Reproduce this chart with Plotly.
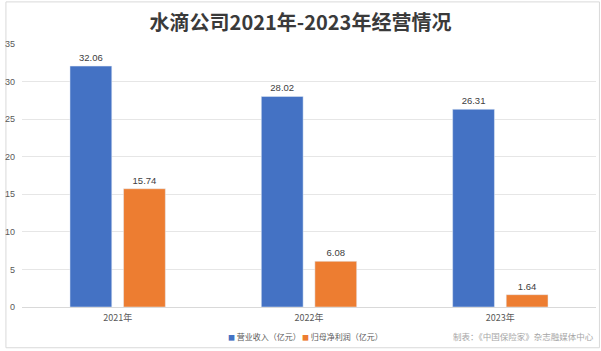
import plotly.graph_objects as go

years = ["2021年", "2022年", "2023年"]
revenue = [32.06, 28.02, 26.31]
profit = [15.74, 6.08, 1.64]
series_names = ["营业收入（亿元）", "归母净利润（亿元）"]
colors = ["#4472C4", "#ED7D31"]
y_ticks = [0, 5, 10, 15, 20, 25, 30, 35]

FONT = "Noto Sans CJK SC"

fig = go.Figure()
for name, vals, col in zip(series_names, [revenue, profit], colors):
    fig.add_trace(go.Bar(
        x=years, y=vals, name=name, marker_color=col,
        text=[f"{v:.2f}" for v in vals], textposition="outside",
        textfont=dict(size=9.5, color="#404040", family="Liberation Sans"), cliponaxis=False,
    ))

fig.update_layout(
    width=601, height=351,
    margin=dict(l=18, r=5, t=44, b=44),
    paper_bgcolor="white", plot_bgcolor="white",
    font=dict(family=FONT, color="#595959", size=9),
    title=dict(text="<b>水滴公司2021年-2023年经营情况</b>", x=0.5, xanchor="center",
               y=0.935, yanchor="middle",
               font=dict(size=20, color="#3A3A3A", family=FONT)),
    barmode="group", bargap=0.44, bargroupgap=0.22,
    showlegend=False,
    xaxis=dict(showgrid=False, showline=False, ticks="", ticklabelstandoff=4,
               tickfont=dict(size=9, color="#595959")),
    yaxis=dict(range=[0, 35], tickvals=y_ticks, showgrid=True, gridcolor="#E6E6E6",
               gridwidth=1, zeroline=True, zerolinecolor="#D9D9D9", zerolinewidth=1,
               ticks="", tickfont=dict(size=9, color="#595959", family="Liberation Sans"),
               ticklabelstandoff=6),
)

# legend built from annotations (small square swatches)
legend_x = [0.356, 0.485]
for name, col, lx in zip(series_names, colors, legend_x):
    fig.add_annotation(
        text=f"<span style='color:{col};font-size:7px'>■</span> {name}",
        xref="paper", yref="paper", x=lx, xanchor="left", y=-0.112, yanchor="middle",
        showarrow=False, font=dict(size=8, color="#595959", family=FONT))

fig.add_annotation(text="制表：《中国保险家》杂志融媒体中心", xref="paper", yref="paper",
                   x=1.0, xanchor="right", y=-0.112, yanchor="middle", showarrow=False,
                   font=dict(size=8.5, color="#A6A6A6", family=FONT))

fig.add_shape(type="rect", xref="paper", yref="paper", x0=-0.028, x1=1.006, y0=-0.155, y1=1.16,
              line=dict(color="#D9D9D9", width=1), fillcolor="rgba(0,0,0,0)", layer="below")

fig.write_html("out.html")
